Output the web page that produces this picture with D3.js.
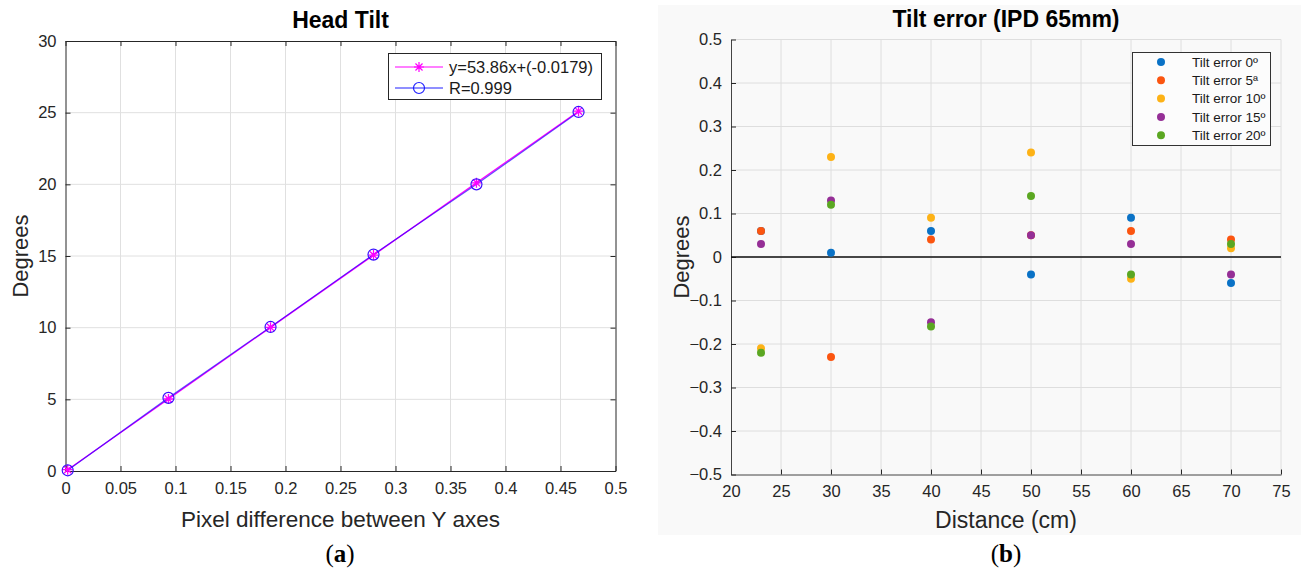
<!DOCTYPE html>
<html>
<head>
<meta charset="utf-8">
<script src="https://cdn.jsdelivr.net/npm/d3@7"></script>
<style>
  html, body { margin: 0; padding: 0; background: #ffffff; }
  svg { display: block; font-family: "Liberation Sans", Arial, Helvetica, sans-serif; }
</style>
</head>
<body>
<svg id="fig" width="1301" height="572"></svg>
<script>
// ---------- Panel (a): head tilt calibration ----------
const pixelDiff = [0.002, 0.0936, 0.1864, 0.2800, 0.3736, 0.4664];
const tiltDegrees = [0.05, 5.1, 10.05, 15.1, 20.0, 25.05];
const fitSlope = 53.86;
const fitIntercept = -0.0179;
const fitLabel = "y=53.86x+(-0.0179)";
const corrLabel = "R=0.999";
const xTicksA = [0, 0.05, 0.1, 0.15, 0.2, 0.25, 0.3, 0.35, 0.4, 0.45, 0.5];
const yTicksA = [0, 5, 10, 15, 20, 25, 30];

// ---------- Panel (b): tilt error vs distance ----------
const distances = [23, 30, 40, 50, 60, 70];
const seriesNames = ["Tilt error 0º", "Tilt error 5ª", "Tilt error 10º", "Tilt error 15º", "Tilt error 20º"];
const err0 = [0.06, 0.01, 0.06, -0.04, 0.09, -0.06];
const err5 = [0.06, -0.23, 0.04, 0.05, 0.06, 0.04];
const err10 = [-0.21, 0.23, 0.09, 0.24, -0.05, 0.02];
const err15 = [0.03, 0.13, -0.15, 0.05, 0.03, -0.04];
const err20 = [-0.22, 0.12, -0.16, 0.14, -0.04, 0.03];
const seriesColors = ["#0a72c6", "#fb5510", "#fdb216", "#952f96", "#5ba722"];
const xTicksB = [20, 25, 30, 35, 40, 45, 50, 55, 60, 65, 70, 75];
const yTicksB = [-0.5, -0.4, -0.3, -0.2, -0.1, 0, 0.1, 0.2, 0.3, 0.4, 0.5];

const svg = d3.select("#fig");
const axisColor = "#262626";
const gridColor = "#e0e0e0";
const tickFont = 16.5;

function fmt(v) { return d3.format("~g")(v); }

// ================= Panel (a) =================
const A = { left: 65.5, right: 615.5, top: 41, bottom: 471 };
const xA = d3.scaleLinear().domain([0, 0.5]).range([A.left, A.right]);
const yA = d3.scaleLinear().domain([0, 30]).range([A.bottom, A.top]);
const gA = svg.append("g");

// grid
gA.append("g").selectAll("line").data(xTicksA.slice(1, -1)).join("line")
  .attr("x1", d => xA(d)).attr("x2", d => xA(d))
  .attr("y1", A.top).attr("y2", A.bottom)
  .attr("stroke", gridColor).attr("stroke-width", 1);
gA.append("g").selectAll("line").data(yTicksA.slice(1, -1)).join("line")
  .attr("x1", A.left).attr("x2", A.right)
  .attr("y1", d => yA(d)).attr("y2", d => yA(d))
  .attr("stroke", gridColor).attr("stroke-width", 1);

// axes (ticks point inward on all four sides)
function styleAxis(g) {
  g.select(".domain").attr("stroke", axisColor);
  g.selectAll(".tick line").attr("stroke", axisColor);
  g.selectAll(".tick text").attr("fill", axisColor).attr("font-size", tickFont)
    .attr("font-family", "Liberation Sans, Arial, sans-serif");
}
gA.append("g").attr("transform", `translate(0,${A.bottom})`)
  .call(d3.axisBottom(xA).tickValues(xTicksA).tickFormat(fmt).tickSizeInner(-5).tickSizeOuter(0).tickPadding(11))
  .call(styleAxis);
gA.append("g").attr("transform", `translate(0,${A.top})`)
  .call(d3.axisTop(xA).tickValues(xTicksA).tickFormat("").tickSizeInner(-5).tickSizeOuter(0))
  .call(styleAxis);
gA.append("g").attr("transform", `translate(${A.left},0)`)
  .call(d3.axisLeft(yA).tickValues(yTicksA).tickFormat(fmt).tickSizeInner(-5).tickSizeOuter(0).tickPadding(9))
  .call(styleAxis);
gA.append("g").attr("transform", `translate(${A.right},0)`)
  .call(d3.axisRight(yA).tickValues(yTicksA).tickFormat("").tickSizeInner(-5).tickSizeOuter(0))
  .call(styleAxis);

// fitted line (magenta, asterisks) and measured line (blue, circles)
const fitPts = pixelDiff.map(x => [x, fitSlope * x + fitIntercept]);
const dataPts = pixelDiff.map((x, i) => [x, tiltDegrees[i]]);
const lineA = d3.line().x(d => xA(d[0])).y(d => yA(d[1]));

function asterisk(r) {
  const k = r * Math.SQRT1_2;
  return `M${-r},0L${r},0M0,${-r}L0,${r}M${-k},${-k}L${k},${k}M${-k},${k}L${k},${-k}`;
}

gA.append("path").datum(fitPts).attr("d", lineA)
  .attr("fill", "none").attr("stroke", "#ff00ff").attr("stroke-width", 1.3);
gA.append("path").datum(dataPts).attr("d", lineA)
  .attr("fill", "none").attr("stroke", "#2a00ff").attr("stroke-width", 1.3).attr("stroke-opacity", 0.7);
gA.append("g").selectAll("path").data(fitPts).join("path")
  .attr("transform", d => `translate(${xA(d[0])},${yA(d[1])})`)
  .attr("d", asterisk(5)).attr("stroke", "#ff00ff").attr("stroke-width", 1.3).attr("fill", "none");
gA.append("g").selectAll("circle").data(dataPts).join("circle")
  .attr("cx", d => xA(d[0])).attr("cy", d => yA(d[1])).attr("r", 5.5)
  .attr("fill", "none").attr("stroke", "#3a10ff").attr("stroke-width", 1.2);

// legend
const legA = gA.append("g");
legA.append("rect").attr("x", 388.5).attr("y", 53.5).attr("width", 213).attr("height", 46)
  .attr("fill", "#ffffff").attr("stroke", axisColor).attr("stroke-width", 1);
const legRowsA = [
  { label: fitLabel, color: "#ff00ff", marker: "asterisk", y: 67 },
  { label: corrLabel, color: "#2020ff", marker: "circle", y: 88 }
];
legRowsA.forEach(r => {
  legA.append("line").attr("x1", 395).attr("x2", 443).attr("y1", r.y).attr("y2", r.y)
    .attr("stroke", r.color).attr("stroke-width", 1.2);
  if (r.marker === "asterisk") {
    legA.append("path").attr("transform", `translate(419,${r.y})`).attr("d", asterisk(5))
      .attr("stroke", r.color).attr("stroke-width", 1.2).attr("fill", "none");
  } else {
    legA.append("circle").attr("cx", 419).attr("cy", r.y).attr("r", 5.5)
      .attr("fill", "none").attr("stroke", r.color).attr("stroke-width", 1.2);
  }
  legA.append("text").attr("x", 449).attr("y", r.y).attr("dy", "0.36em")
    .attr("font-size", 16.5).attr("fill", "#1a1a1a").text(r.label);
});

// titles and labels
gA.append("text").attr("x", (A.left + A.right) / 2).attr("y", 28).attr("text-anchor", "middle")
  .attr("font-size", 23).attr("font-weight", "bold").attr("fill", "#000").text("Head Tilt");
gA.append("text").attr("x", (A.left + A.right) / 2).attr("y", 527).attr("text-anchor", "middle")
  .attr("font-size", 22.5).attr("fill", "#262626").text("Pixel difference between Y axes");
gA.append("text").attr("transform", `translate(28,${(A.top + A.bottom) / 2}) rotate(-90)`)
  .attr("text-anchor", "middle").attr("font-size", 22).attr("fill", "#262626").text("Degrees");

// ================= Panel (b) =================
const gB = svg.append("g");
gB.append("rect").attr("x", 658).attr("y", 5).attr("width", 643).attr("height", 530).attr("fill", "#f9f9f9");

const B = { left: 731, right: 1281, top: 39.5, bottom: 474.5 };
const xB = d3.scaleLinear().domain([20, 75]).range([B.left, B.right]);
const yB = d3.scaleLinear().domain([-0.5, 0.5]).range([B.bottom, B.top]);

gB.append("g").selectAll("line").data(xTicksB.slice(1)).join("line")
  .attr("x1", d => xB(d)).attr("x2", d => xB(d))
  .attr("y1", B.top).attr("y2", B.bottom)
  .attr("stroke", "#dedede").attr("stroke-width", 1);
gB.append("g").selectAll("line").data(yTicksB.slice(1)).join("line")
  .attr("x1", B.left).attr("x2", B.right)
  .attr("y1", d => yB(d)).attr("y2", d => yB(d))
  .attr("stroke", "#dedede").attr("stroke-width", 1);

gB.append("g").attr("transform", `translate(0,${B.bottom})`)
  .call(d3.axisBottom(xB).tickValues(xTicksB).tickFormat(fmt).tickSizeInner(-5).tickSizeOuter(0).tickPadding(11))
  .call(g => { styleAxis(g); g.select(".domain").attr("stroke", "#444"); });
gB.append("g").attr("transform", `translate(${B.left},0)`)
  .call(d3.axisLeft(yB).tickValues(yTicksB).tickFormat(fmt).tickSizeInner(-5).tickSizeOuter(0).tickPadding(9))
  .call(g => { styleAxis(g); g.select(".domain").attr("stroke", "#444"); });

// zero reference line
gB.append("line").attr("x1", xB(20)).attr("x2", xB(75)).attr("y1", yB(0)).attr("y2", yB(0))
  .attr("stroke", "#111").attr("stroke-width", 1.6);

// scatter series
const seriesValues = [err0, err5, err10, err15, err20];
seriesValues.forEach((vals, s) => {
  gB.append("g").selectAll("circle").data(vals).join("circle")
    .attr("cx", (d, i) => xB(distances[i])).attr("cy", d => yB(d)).attr("r", 4)
    .attr("fill", seriesColors[s]);
});

// legend
const legB = gB.append("g");
legB.append("rect").attr("x", 1132.5).attr("y", 52.5).attr("width", 138).attr("height", 93)
  .attr("fill", "#fcfcfc").attr("stroke", "#333").attr("stroke-width", 1);
seriesNames.forEach((name, s) => {
  const y = 62 + s * 18.3;
  legB.append("circle").attr("cx", 1161).attr("cy", y).attr("r", 4).attr("fill", seriesColors[s]);
  legB.append("text").attr("x", 1192).attr("y", y).attr("dy", "0.36em")
    .attr("font-size", 13.5).attr("fill", "#1a1a1a").text(name);
});

gB.append("text").attr("x", (B.left + B.right) / 2).attr("y", 27).attr("text-anchor", "middle")
  .attr("font-size", 23).attr("font-weight", "bold").attr("fill", "#000").text("Tilt error (IPD 65mm)");
gB.append("text").attr("x", (B.left + B.right) / 2).attr("y", 528).attr("text-anchor", "middle")
  .attr("font-size", 23).attr("fill", "#262626").text("Distance (cm)");
gB.append("text").attr("transform", `translate(689,${(B.top + B.bottom) / 2}) rotate(-90)`)
  .attr("text-anchor", "middle").attr("font-size", 22).attr("fill", "#262626").text("Degrees");

// ---------- captions ----------
function caption(x, letter) {
  const t = svg.append("text").attr("x", x).attr("y", 562).attr("text-anchor", "middle")
    .attr("font-family", "Liberation Serif, 'DejaVu Serif', serif").attr("font-size", 25).attr("fill", "#000");
  t.append("tspan").text("(");
  t.append("tspan").attr("font-weight", "bold").text(letter);
  t.append("tspan").text(")");
}
caption(340, "a");
caption(1006, "b");
</script>
</body>
</html>
